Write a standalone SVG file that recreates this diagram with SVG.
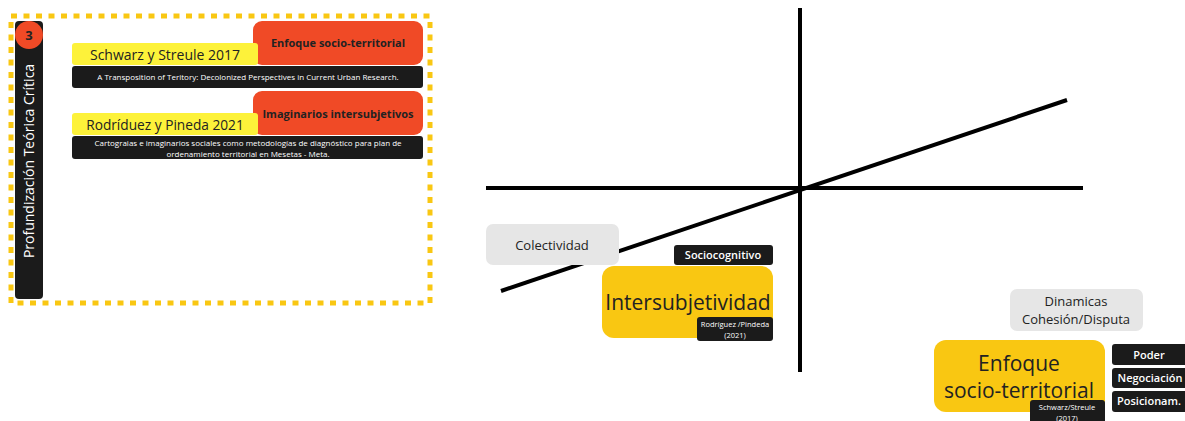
<svg xmlns="http://www.w3.org/2000/svg" width="1185" height="421" viewBox="0 0 1185 421">
<style>
text{font-family:"Open Sans","Noto Sans",sans-serif;}
.blk{fill:#1b1b1b;}
.red{fill:#f04a26;}
.ylw{fill:#fdf23a;}
.gold{fill:#f9c712;}
.gray{fill:#e6e6e6;}
.wt{fill:#ffffff;text-anchor:middle;}
.dk{fill:#222222;text-anchor:middle;}
.sb{font-weight:600;}
.ax{stroke:#000;stroke-width:4;fill:none;}
</style>
<rect x="11" y="16" width="419" height="287" fill="none" stroke="#f9c712" stroke-width="5" stroke-dasharray="6 6.5"/>
<g id="sidebar">
<rect x="15" y="21" width="28" height="278" rx="4" class="blk"/>
<text transform="translate(34,161) rotate(-90)" class="wt" font-size="14">Profundización Teórica Crítica</text>
<circle cx="29" cy="35" r="14" class="red"/>
<text x="29" y="40" class="dk" font-size="13" font-weight="bold">3</text>
</g>
<g id="ref1">
<rect x="253" y="21" width="170" height="44" rx="9" class="red"/>
<text x="338" y="47" class="dk" font-size="11" font-weight="bold">Enfoque socio-territorial</text>
<rect x="72" y="43" width="186" height="22" rx="3" class="ylw"/>
<text x="165" y="60" class="dk" font-size="14">Schwarz y Streule 2017</text>
<rect x="72" y="66" width="351" height="22" rx="3" class="blk"/>
<text x="248" y="80" class="wt" font-size="8">A Transposition of Teritory: Decolonized Perspectives in Current Urban Research.</text>
</g>
<g id="ref2">
<rect x="253" y="91" width="170" height="44" rx="9" class="red"/>
<text x="338" y="118" class="dk" font-size="11" font-weight="bold">Imaginarios intersubjetivos</text>
<rect x="72" y="113" width="186" height="22" rx="3" class="ylw"/>
<text x="165" y="130" class="dk" font-size="13.7">Rodríduez y Pineda 2021</text>
<rect x="72" y="136" width="351" height="23" rx="3" class="blk"/>
<text x="248" y="146" class="wt" font-size="8">Cartograias e imaginarios sociales como metodologías de diagnóstico para plan de</text>
<text x="248" y="157" class="wt" font-size="8">ordenamiento territorial en Mesetas - Meta.</text>
</g>
<g id="connectors">
<line x1="800" y1="8" x2="800" y2="372" class="ax"/>
<line x1="486" y1="188" x2="1083" y2="188" class="ax"/>
<line x1="501" y1="291" x2="1067" y2="100" class="ax"/>
</g>
<g id="colectividad">
<rect x="486" y="224" width="133" height="41" rx="7" class="gray"/>
<text x="552" y="250" class="dk" font-size="13">Colectividad</text>
</g>
<g id="sociocognitivo">
<rect x="674" y="245" width="99" height="20" rx="3" class="blk"/>
<text x="723" y="259" class="wt sb" font-size="11">Sociocognitivo</text>
</g>
<g id="intersubjetividad">
<rect x="602" y="266" width="171" height="72" rx="12" class="gold"/>
<text x="688" y="310" class="dk" font-size="21">Intersubjetividad</text>
</g>
<g id="rodriguez">
<rect x="697" y="317" width="76" height="24" rx="3" class="blk"/>
<text x="735" y="327" class="wt" font-size="7.5">Rodríguez /Pindeda</text>
<text x="735" y="338" class="wt" font-size="7.5">(2021)</text>
</g>
<g id="dinamicas">
<rect x="1010" y="289" width="133" height="42" rx="7" class="gray"/>
<text x="1076" y="306" class="dk" font-size="13">Dinamicas</text>
<text x="1076" y="324" class="dk" font-size="13">Cohesión/Disputa</text>
</g>
<g id="enfoque">
<rect x="934" y="340" width="171" height="72" rx="12" class="gold"/>
<text x="1019" y="371" class="dk" font-size="21">Enfoque</text>
<text x="1019" y="398" class="dk" font-size="21">socio-territorial</text>
</g>
<g id="schwarz">
<rect x="1030" y="400" width="75" height="30" rx="3" class="blk"/>
<text x="1067" y="410" class="wt" font-size="7.5">Schwarz/Streule</text>
<text x="1067" y="421" class="wt" font-size="7.5">(2017)</text>
</g>
<g id="poder">
<rect x="1112" y="344" width="80" height="21" rx="3" class="blk"/>
<text x="1149" y="359" class="wt sb" font-size="11">Poder</text>
</g>
<g id="negociacion">
<rect x="1112" y="368" width="80" height="20" rx="3" class="blk"/>
<text x="1150" y="382" class="wt sb" font-size="11">Negociación</text>
</g>
<g id="posicionam">
<rect x="1112" y="391" width="80" height="21" rx="3" class="blk"/>
<text x="1149" y="405" class="wt sb" font-size="11">Posicionam.</text>
</g>
</svg>
